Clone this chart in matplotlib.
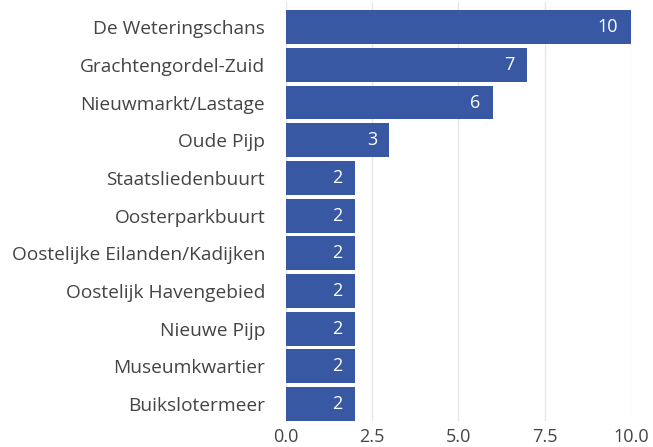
import matplotlib

matplotlib.use("Agg")
import matplotlib.pyplot as plt

plt.rcParams["font.family"] = ["Open Sans", "DejaVu Sans"]

neighbourhoods = [
    "De Weteringschans",
    "Grachtengordel-Zuid",
    "Nieuwmarkt/Lastage",
    "Oude Pijp",
    "Staatsliedenbuurt",
    "Oosterparkbuurt",
    "Oostelijke Eilanden/Kadijken",
    "Oostelijk Havengebied",
    "Nieuwe Pijp",
    "Museumkwartier",
    "Buikslotermeer",
]
counts = [10, 7, 6, 3, 2, 2, 2, 2, 2, 2, 2]
xticks = [0.0, 2.5, 5.0, 7.5, 10.0]

bar_color = "#3858a4"
text_color = "#444444"

fig = plt.figure(figsize=(6.53, 4.47), dpi=100)
ax = fig.add_axes([0.438, 0.058, 0.528, 0.937])

ypos = list(range(len(neighbourhoods)))
ax.barh(ypos, counts, height=0.9, color=bar_color, zorder=2)
for y, v in zip(ypos, counts):
    ax.text(v - 0.36, y, str(v), color="white", ha="right", va="center",
            fontsize=13, zorder=3)

ax.set_ylim(10.45, -0.66)
ax.set_xlim(0, 10.0)
ax.set_yticks(ypos)
ax.set_yticklabels(neighbourhoods, fontsize=13.8, color=text_color)
ax.set_xticks(xticks)
ax.set_xticklabels([f"{t:.1f}" for t in xticks], fontsize=13, color=text_color)
ax.tick_params(length=0, pad=5)
ax.tick_params(axis="y", pad=15)
ax.grid(axis="x", color="#e6e6e6", linewidth=1, zorder=0)
for s in ax.spines.values():
    s.set_visible(False)

fig.savefig("out.png", dpi=100)
